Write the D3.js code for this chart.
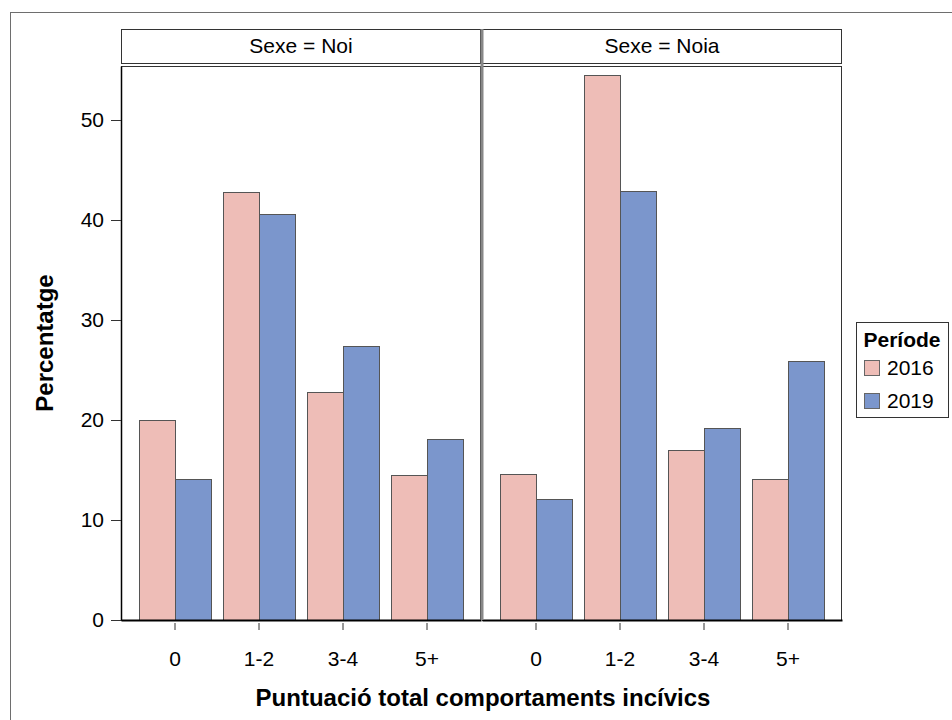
<!DOCTYPE html>
<html>
<head>
<meta charset="utf-8">
<script src="https://cdn.jsdelivr.net/npm/d3@7"></script>
<style>
  html, body { margin: 0; padding: 0; background: #fff; }
  svg { display: block; font-family: "Liberation Sans", Arial, sans-serif; }
</style>
</head>
<body>
<svg id="chart" width="952" height="720"></svg>
<script>
// ---- data ----
const categories = ["0", "1-2", "3-4", "5+"];
const periods = ["2016", "2019"];
const panels = ["Noi", "Noia"];
const noi2016 = [20.0, 42.8, 22.8, 14.5];
const noi2019 = [14.1, 40.6, 27.4, 18.1];
const noia2016 = [14.6, 54.5, 17.0, 14.1];
const noia2019 = [12.1, 42.9, 19.2, 25.9];
const yTicks = [0, 10, 20, 30, 40, 50];
const colors = ["#EEBDB7", "#7B96CC"];

const panelData = [
  { name: panels[0], series: [noi2016, noi2019] },
  { name: panels[1], series: [noia2016, noia2019] }
];

// ---- layout ----
const svg = d3.select("#chart");
const panelW = 360;
const panelX = [121, 482];
const panelTop = 66, panelBottom = 620;
const stripTop = 29, stripBottom = 63;
const FONT = "Liberation Sans, Arial, sans-serif";

// outer frame
svg.append("rect").attr("x", 10.5).attr("y", 12.5).attr("width", 1000).attr("height", 1000)
  .attr("fill", "none").attr("stroke", "#6e6e6e").attr("stroke-width", 1);

const y = d3.scaleLinear().domain([0, 55.4]).range([panelBottom, panelTop]);
const x = d3.scaleBand().domain(categories).range([0, panelW]).paddingInner(12 / 84).paddingOuter(18 / 84);
const xi = d3.scaleBand().domain(periods).range([0, x.bandwidth()]).padding(0);
const color = d3.scaleOrdinal().domain(periods).range(colors);

panelData.forEach((p, pi) => {
  const g = svg.append("g").attr("transform", `translate(${panelX[pi]},0)`);
  // strip
  g.append("rect").attr("x", 0.5).attr("y", stripTop + 0.5).attr("width", panelW - 1).attr("height", stripBottom - stripTop)
    .attr("fill", "#fff").attr("stroke", "#333");
  g.append("text").attr("x", panelW / 2).attr("y", 53).attr("text-anchor", "middle")
    .attr("font-size", 21).attr("fill", "#000").text("Sexe = " + p.name);
  // panel frame
  g.append("rect").attr("x", 0.5).attr("y", panelTop + 0.5).attr("width", panelW - 1).attr("height", panelBottom - panelTop)
    .attr("fill", "#fff").attr("stroke", "#333");
  // bars
  const groups = g.selectAll("g.cat").data(categories).enter().append("g")
    .attr("transform", d => `translate(${x(d)},0)`);
  groups.selectAll("rect").data((c, ci) => periods.map((per, si) => ({ per, v: p.series[si][ci] })))
    .enter().append("rect")
    .attr("x", d => xi(d.per) + 0.5)
    .attr("y", d => y(d.v) + 0.5)
    .attr("width", xi.bandwidth())
    .attr("height", d => panelBottom - y(d.v))
    .attr("fill", d => color(d.per))
    .attr("stroke", "#555").attr("stroke-width", 1);
  // x axis
  const xa = g.append("g").attr("transform", `translate(0,${panelBottom})`)
    .call(d3.axisBottom(x).tickSize(10).tickSizeOuter(0).tickPadding(21));
  xa.select(".domain").attr("stroke", "#000").attr("stroke-width", 2);
  xa.selectAll(".tick line").attr("stroke", "#333").attr("y1", 3);
  xa.selectAll(".tick text").attr("font-size", 21).attr("font-family", FONT).attr("fill", "#000");
});

// separator between panels
svg.append("line").attr("x1", 482).attr("x2", 482).attr("y1", stripTop).attr("y2", panelBottom)
  .attr("stroke", "#888").attr("stroke-width", 3);

// y axis
const ya = svg.append("g").attr("transform", `translate(121,0)`)
  .call(d3.axisLeft(y).tickValues(yTicks).tickSize(10).tickSizeOuter(0).tickPadding(7));
ya.select(".domain").attr("stroke", "#000").attr("stroke-width", 1.5);
ya.selectAll(".tick line").attr("stroke", "#333");
ya.selectAll(".tick text").attr("font-size", 21).attr("font-family", FONT).attr("fill", "#000");

// axis titles
svg.append("text").attr("transform", `translate(53,${(panelTop + panelBottom) / 2}) rotate(-90)`)
  .attr("text-anchor", "middle").attr("font-size", 24).attr("font-weight", "bold").text("Percentatge");
svg.append("text").attr("x", 483).attr("y", 706).attr("text-anchor", "middle")
  .attr("font-size", 24).attr("font-weight", "bold").text("Puntuació total comportaments incívics");

// legend
const lg = svg.append("g").attr("transform", "translate(856,322)");
lg.append("rect").attr("x", 0.5).attr("y", 0.5).attr("width", 92).attr("height", 95)
  .attr("fill", "#fff").attr("stroke", "#333");
lg.append("text").attr("x", 46).attr("y", 25).attr("text-anchor", "middle")
  .attr("font-size", 21).attr("font-weight", "bold").text("Període");
periods.forEach((per, i) => {
  lg.append("rect").attr("x", 8.5).attr("y", 38.5 + i * 33).attr("width", 15).attr("height", 15)
    .attr("fill", color(per)).attr("stroke", "#666");
  lg.append("text").attr("x", 31).attr("y", 53 + i * 33).attr("font-size", 21).text(per);
});
</script>
</body>
</html>
